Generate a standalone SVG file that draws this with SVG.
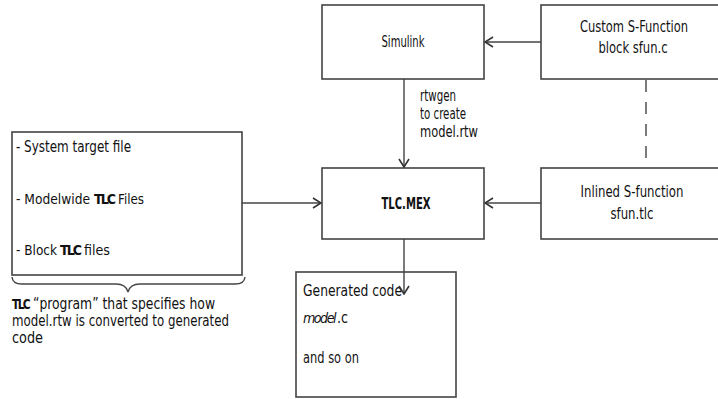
<svg xmlns="http://www.w3.org/2000/svg" width="718" height="399" viewBox="0 0 718 399">
<defs>
<style>
.box{fill:#fff;stroke:#444;stroke-width:1.6}
.ln{fill:none;stroke:#444;stroke-width:1.4}
text{font-family:"DejaVu Sans Condensed","Liberation Sans Narrow","Liberation Sans",sans-serif;font-size:15px;fill:#111}
.s{font-size:14px}
.b{font-weight:bold}
.t{letter-spacing:-2px}
.i{font-style:italic;letter-spacing:-1.5px}
.c{text-anchor:middle}
</style>
<marker id="ah" viewBox="0 0 10 12" refX="9" refY="6" markerWidth="10" markerHeight="12" markerUnits="userSpaceOnUse" orient="auto">
<path d="M1,1 L9,6 L1,11" fill="none" stroke="#333" stroke-width="1.6"/>
</marker>
</defs>
<rect width="718" height="399" fill="#fff"/>
<g id="simulink">
<rect class="box" x="322" y="5" width="162" height="74"/>
<text class="c" x="403" y="47" textLength="43" lengthAdjust="spacingAndGlyphs">Simulink</text>
</g>
<g id="custom-sfun">
<rect class="box" x="541" y="5" width="190" height="74"/>
<text class="c" x="634" y="32" textLength="108" lengthAdjust="spacingAndGlyphs">Custom S-Function</text>
<text class="c" x="633" y="53" textLength="69" lengthAdjust="spacingAndGlyphs">block sfun.c</text>
</g>
<g id="rtwgen-label">
<text x="420" y="101" textLength="36" lengthAdjust="spacingAndGlyphs">rtwgen</text>
<text x="420" y="119" textLength="46" lengthAdjust="spacingAndGlyphs">to create</text>
<text x="420" y="137" textLength="58" lengthAdjust="spacingAndGlyphs">model.rtw</text>
</g>
<g id="tlc-files">
<rect class="box" x="12" y="132" width="230" height="143"/>
<text x="16" y="152" textLength="115" lengthAdjust="spacingAndGlyphs">- System target file</text>
<text class="s" x="16" y="204" textLength="74" lengthAdjust="spacingAndGlyphs">- Modelwide</text>
<text class="s b t" x="94" y="204" textLength="20" lengthAdjust="spacingAndGlyphs">TLC</text>
<text class="s" x="118" y="204" textLength="26" lengthAdjust="spacingAndGlyphs">Files</text>
<text class="s" x="16" y="255" textLength="41" lengthAdjust="spacingAndGlyphs">- Block</text>
<text class="s b t" x="60" y="255" textLength="20" lengthAdjust="spacingAndGlyphs">TLC</text>
<text class="s" x="84" y="255" textLength="26" lengthAdjust="spacingAndGlyphs">files</text>
</g>
<g id="tlc-caption">
<text class="s b t" x="12" y="309" textLength="17" lengthAdjust="spacingAndGlyphs">TLC</text>
<text x="33" y="309" textLength="182" lengthAdjust="spacingAndGlyphs">“program” that specifies how</text>
<text x="12" y="326" textLength="217" lengthAdjust="spacingAndGlyphs">model.rtw is converted to generated</text>
<text x="12" y="343" textLength="31" lengthAdjust="spacingAndGlyphs">code</text>
</g>
<g id="tlc-mex">
<rect class="box" x="322" y="168" width="162" height="71"/>
<text class="c b" x="406" y="209" textLength="49" lengthAdjust="spacingAndGlyphs">TLC.MEX</text>
</g>
<g id="inlined-sfun">
<rect class="box" x="541" y="168" width="190" height="71"/>
<text class="c" x="632" y="197" textLength="103" lengthAdjust="spacingAndGlyphs">Inlined S-function</text>
<text class="c" x="632" y="219" textLength="43" lengthAdjust="spacingAndGlyphs">sfun.tlc</text>
</g>
<g id="generated-code">
<rect class="box" x="296" y="272" width="160" height="125"/>
<text x="303" y="296" textLength="99" lengthAdjust="spacingAndGlyphs">Generated code</text>
<text class="s i" x="303" y="323" textLength="32" lengthAdjust="spacingAndGlyphs">model</text>
<text x="337" y="323" textLength="11" lengthAdjust="spacingAndGlyphs">.c</text>
<text x="303" y="363" textLength="56" lengthAdjust="spacingAndGlyphs">and so on</text>
</g>
<g id="connectors">
<line class="ln" x1="541" y1="42" x2="485" y2="42" marker-end="url(#ah)"/>
<line class="ln" x1="404" y1="79" x2="404" y2="167" marker-end="url(#ah)"/>
<line class="ln" x1="646" y1="80" x2="646" y2="168" stroke-dasharray="12,10"/>
<line class="ln" x1="242" y1="203" x2="321" y2="203" marker-end="url(#ah)"/>
<line class="ln" x1="541" y1="203" x2="485" y2="203" marker-end="url(#ah)"/>
<line class="ln" x1="404" y1="239" x2="404" y2="294" marker-end="url(#ah)"/>
<path class="ln" d="M12,277 Q12.5,284 22,284 L116,284 Q126,284 128,292 Q130,284 140,284 L235,284 Q244.5,284 245,277"/>
</g>
</svg>
